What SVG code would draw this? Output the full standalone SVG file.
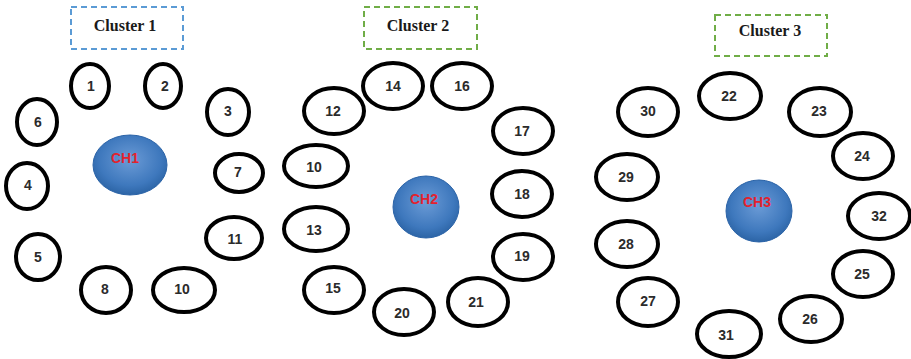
<svg xmlns="http://www.w3.org/2000/svg" width="911" height="359" viewBox="0 0 911 359">
<defs>
<radialGradient id="chg" cx="0.5" cy="0.42" r="0.6">
<stop offset="0" stop-color="#6b9bd6"/>
<stop offset="0.7" stop-color="#3e78bd"/>
<stop offset="1" stop-color="#2a62a3"/>
</radialGradient>
<style>
.n ellipse{fill:#fff;stroke:#000;stroke-width:4}
.n text{font-family:"Liberation Sans",Arial,sans-serif;font-weight:bold;font-size:14px;fill:#2b2b2b;text-anchor:middle;dominant-baseline:central}
.ch ellipse{fill:url(#chg);stroke:#2c64a8;stroke-width:1}
.ch text{font-family:"Liberation Sans",Arial,sans-serif;font-weight:bold;font-size:14px;fill:#e3222e;text-anchor:middle}
.cl text{font-family:"Liberation Serif","Times New Roman",serif;font-weight:bold;font-size:16px;fill:#1a1a1a;text-anchor:middle}
.cl rect{fill:none;stroke-width:2;stroke-dasharray:6 4}
</style>
</defs>
<g id="cluster1-label" class="cl"><rect x="71" y="7" width="112" height="42" stroke="#5b9bd5"/><text x="125" y="31">Cluster 1</text></g>
<g id="cluster2-label" class="cl"><rect x="364" y="7" width="113" height="42" stroke="#70ad47"/><text x="418" y="31">Cluster 2</text></g>
<g id="cluster3-label" class="cl"><rect x="715" y="15" width="112" height="41" stroke="#70ad47"/><text x="770" y="36" font-size="15">Cluster 3</text></g>
<g id="connectors"></g>
<g id="CH1" class="ch"><ellipse cx="130" cy="165" rx="37" ry="30"/><text x="125" y="163">CH1</text></g>
<g id="CH2" class="ch"><ellipse cx="426" cy="207" rx="33" ry="31"/><text x="424" y="204">CH2</text></g>
<g id="CH3" class="ch"><ellipse cx="759" cy="211" rx="33" ry="31"/><text x="757" y="207">CH3</text></g>
<g id="n1" class="n"><ellipse cx="90" cy="86" rx="19" ry="22"/><text x="91" y="86">1</text></g>
<g id="n2" class="n"><ellipse cx="163" cy="86" rx="18" ry="22"/><text x="165" y="86">2</text></g>
<g id="n3" class="n"><ellipse cx="228" cy="112" rx="21" ry="23"/><text x="228" y="111">3</text></g>
<g id="n6" class="n"><ellipse cx="37" cy="122" rx="20" ry="23"/><text x="38" y="122">6</text></g>
<g id="n7" class="n"><ellipse cx="239" cy="173" rx="24" ry="19"/><text x="238" y="172">7</text></g>
<g id="n4" class="n"><ellipse cx="27" cy="186" rx="21" ry="23"/><text x="28" y="185">4</text></g>
<g id="n5" class="n"><ellipse cx="38" cy="257" rx="22" ry="23"/><text x="38" y="257">5</text></g>
<g id="n8" class="n"><ellipse cx="106" cy="290" rx="25" ry="23"/><text x="105" y="289">8</text></g>
<g id="n10a" class="n"><ellipse cx="184" cy="290" rx="31" ry="22"/><text x="182" y="289">10</text></g>
<g id="n11" class="n"><ellipse cx="234" cy="238" rx="28" ry="21"/><text x="235" y="239">11</text></g>
<g id="n14" class="n"><ellipse cx="393" cy="86" rx="30" ry="23"/><text x="393" y="86">14</text></g>
<g id="n16" class="n"><ellipse cx="462" cy="86" rx="30" ry="23"/><text x="462" y="86">16</text></g>
<g id="n12" class="n"><ellipse cx="334" cy="111" rx="30" ry="23"/><text x="333" y="111">12</text></g>
<g id="n17" class="n"><ellipse cx="523" cy="131" rx="30" ry="23"/><text x="522" y="131">17</text></g>
<g id="n10b" class="n"><ellipse cx="316" cy="166" rx="32" ry="21"/><text x="314" y="167">10</text></g>
<g id="n18" class="n"><ellipse cx="522" cy="194" rx="30" ry="23"/><text x="522" y="194">18</text></g>
<g id="n13" class="n"><ellipse cx="316" cy="229" rx="32" ry="22"/><text x="314" y="230">13</text></g>
<g id="n19" class="n"><ellipse cx="523" cy="257" rx="30" ry="23"/><text x="522" y="256">19</text></g>
<g id="n15" class="n"><ellipse cx="334" cy="290" rx="30" ry="23"/><text x="333" y="288">15</text></g>
<g id="n20" class="n"><ellipse cx="404" cy="312" rx="30" ry="23"/><text x="402" y="313">20</text></g>
<g id="n21" class="n"><ellipse cx="478" cy="302" rx="30" ry="24"/><text x="476" y="302">21</text></g>
<g id="n22" class="n"><ellipse cx="730" cy="96" rx="31" ry="23"/><text x="729" y="96">22</text></g>
<g id="n30" class="n"><ellipse cx="648" cy="112" rx="30" ry="24"/><text x="648" y="111">30</text></g>
<g id="n23" class="n"><ellipse cx="820" cy="112" rx="31" ry="24"/><text x="819" y="111">23</text></g>
<g id="n24" class="n"><ellipse cx="863" cy="156" rx="30" ry="23"/><text x="862" y="156">24</text></g>
<g id="n29" class="n"><ellipse cx="627" cy="177" rx="31" ry="23"/><text x="626" y="177">29</text></g>
<g id="n32" class="n"><ellipse cx="879" cy="216" rx="31" ry="23"/><text x="879" y="216">32</text></g>
<g id="n28" class="n"><ellipse cx="627" cy="244" rx="31" ry="23"/><text x="626" y="244">28</text></g>
<g id="n25" class="n"><ellipse cx="863" cy="274" rx="30" ry="23"/><text x="862" y="274">25</text></g>
<g id="n27" class="n"><ellipse cx="648" cy="302" rx="30" ry="24"/><text x="648" y="301">27</text></g>
<g id="n26" class="n"><ellipse cx="811" cy="319" rx="31" ry="23"/><text x="810" y="319">26</text></g>
<g id="n31" class="n"><ellipse cx="729" cy="334" rx="32" ry="23"/><text x="726" y="335">31</text></g>
</svg>
